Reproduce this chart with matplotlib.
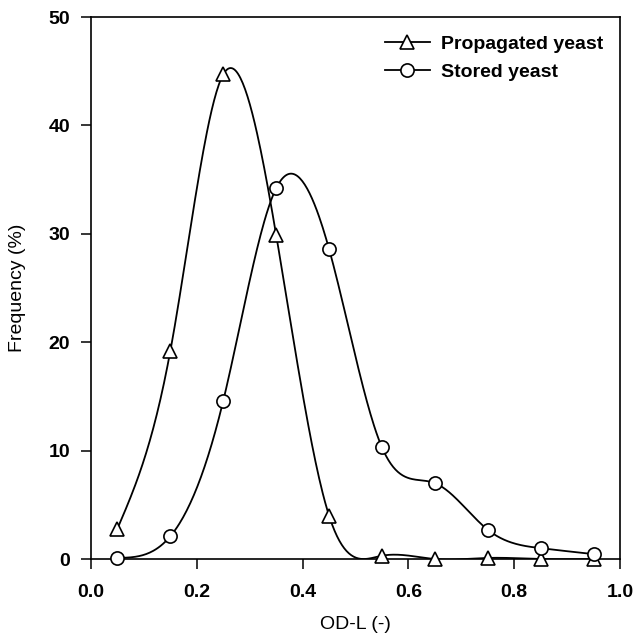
import numpy as np
import matplotlib
matplotlib.use("Agg")
import matplotlib.pyplot as plt
from matplotlib.lines import Line2D

# ---- data ----
od_l = [0.05, 0.15, 0.25, 0.35, 0.45, 0.55, 0.65, 0.75, 0.85, 0.95]
propagated = [2.8, 19.2, 44.7, 29.9, 4.0, 0.3, 0.0, 0.1, 0.0, 0.0]
stored = [0.1, 2.1, 14.6, 34.2, 28.6, 10.3, 7.0, 2.7, 1.0, 0.45]
xticks = [0.0, 0.2, 0.4, 0.6, 0.8, 1.0]
xtick_labels = ["0.0", "0.2", "0.4", "0.6", "0.8", "1.0"]
yticks = [0, 10, 20, 30, 40, 50]
series_labels = ["Propagated yeast", "Stored yeast"]


def natural_spline(x, y, n=400):
    x = np.asarray(x, float)
    y = np.asarray(y, float)
    m = len(x)
    h = np.diff(x)
    A = np.zeros((m, m))
    b = np.zeros(m)
    A[0, 0] = 1
    A[-1, -1] = 1
    for i in range(1, m - 1):
        A[i, i - 1] = h[i - 1]
        A[i, i] = 2 * (h[i - 1] + h[i])
        A[i, i + 1] = h[i]
        b[i] = 6 * ((y[i + 1] - y[i]) / h[i] - (y[i] - y[i - 1]) / h[i - 1])
    M = np.linalg.solve(A, b)
    xs = np.linspace(x[0], x[-1], n)
    idx = np.clip(np.searchsorted(x, xs) - 1, 0, m - 2)
    x0, x1 = x[idx], x[idx + 1]
    hh = x1 - x0
    t1 = x1 - xs
    t0 = xs - x0
    ys = (M[idx] * t1 ** 3 / (6 * hh) + M[idx + 1] * t0 ** 3 / (6 * hh)
          + (y[idx] / hh - M[idx] * hh / 6) * t1
          + (y[idx + 1] / hh - M[idx + 1] * hh / 6) * t0)
    return xs, ys


plt.rcParams['font.family'] = ['Liberation Sans', 'DejaVu Sans']

fig = plt.figure(figsize=(6.37, 6.42), dpi=100)
ax = fig.add_axes([91 / 637, 1 - 559 / 642, 529 / 637, 542 / 642])

lw = 1.3
mkw = dict(markersize=9.5, markerfacecolor='white', markeredgecolor='black',
           markeredgewidth=1.2)
for vals, mk in [(propagated, '^'), (stored, 'o')]:
    xs, ys = natural_spline(od_l, vals)
    ax.plot(xs, ys, color='black', lw=lw, zorder=2)
    ax.plot(od_l, vals, linestyle='none', marker=mk, clip_on=False, zorder=3, **mkw)

handles = [Line2D([], [], color='black', lw=lw, marker='^', **mkw),
           Line2D([], [], color='black', lw=lw, marker='o', **mkw)]
ax.legend(handles, series_labels, loc='upper left',
          bbox_to_anchor=((385 - 91) / 529, (559 - 35) / 542),
          frameon=False, borderpad=0, borderaxespad=0, handlelength=2.3,
          handletextpad=0.6, labelspacing=0.55,
          prop={'size': 14, 'weight': 'bold'})

ax.set_xlim(0, 1.0)
ax.set_ylim(0, 50)
ax.set_xticks(xticks)
ax.set_xticklabels(xtick_labels)
ax.set_yticks(yticks)
ax.tick_params(direction='out', length=7, width=1.1, labelsize=14)
ax.tick_params(axis='x', pad=11)
ax.tick_params(axis='y', pad=8)
for lab in ax.get_xticklabels() + ax.get_yticklabels():
    lab.set_fontweight('bold')
for sp in ax.spines.values():
    sp.set_linewidth(1.2)

ax.set_xlabel("OD-L (-)", fontsize=14, labelpad=11)
ax.set_ylabel("Frequency (%)", fontsize=14, labelpad=16)

fig.savefig("out.png", dpi=100)
